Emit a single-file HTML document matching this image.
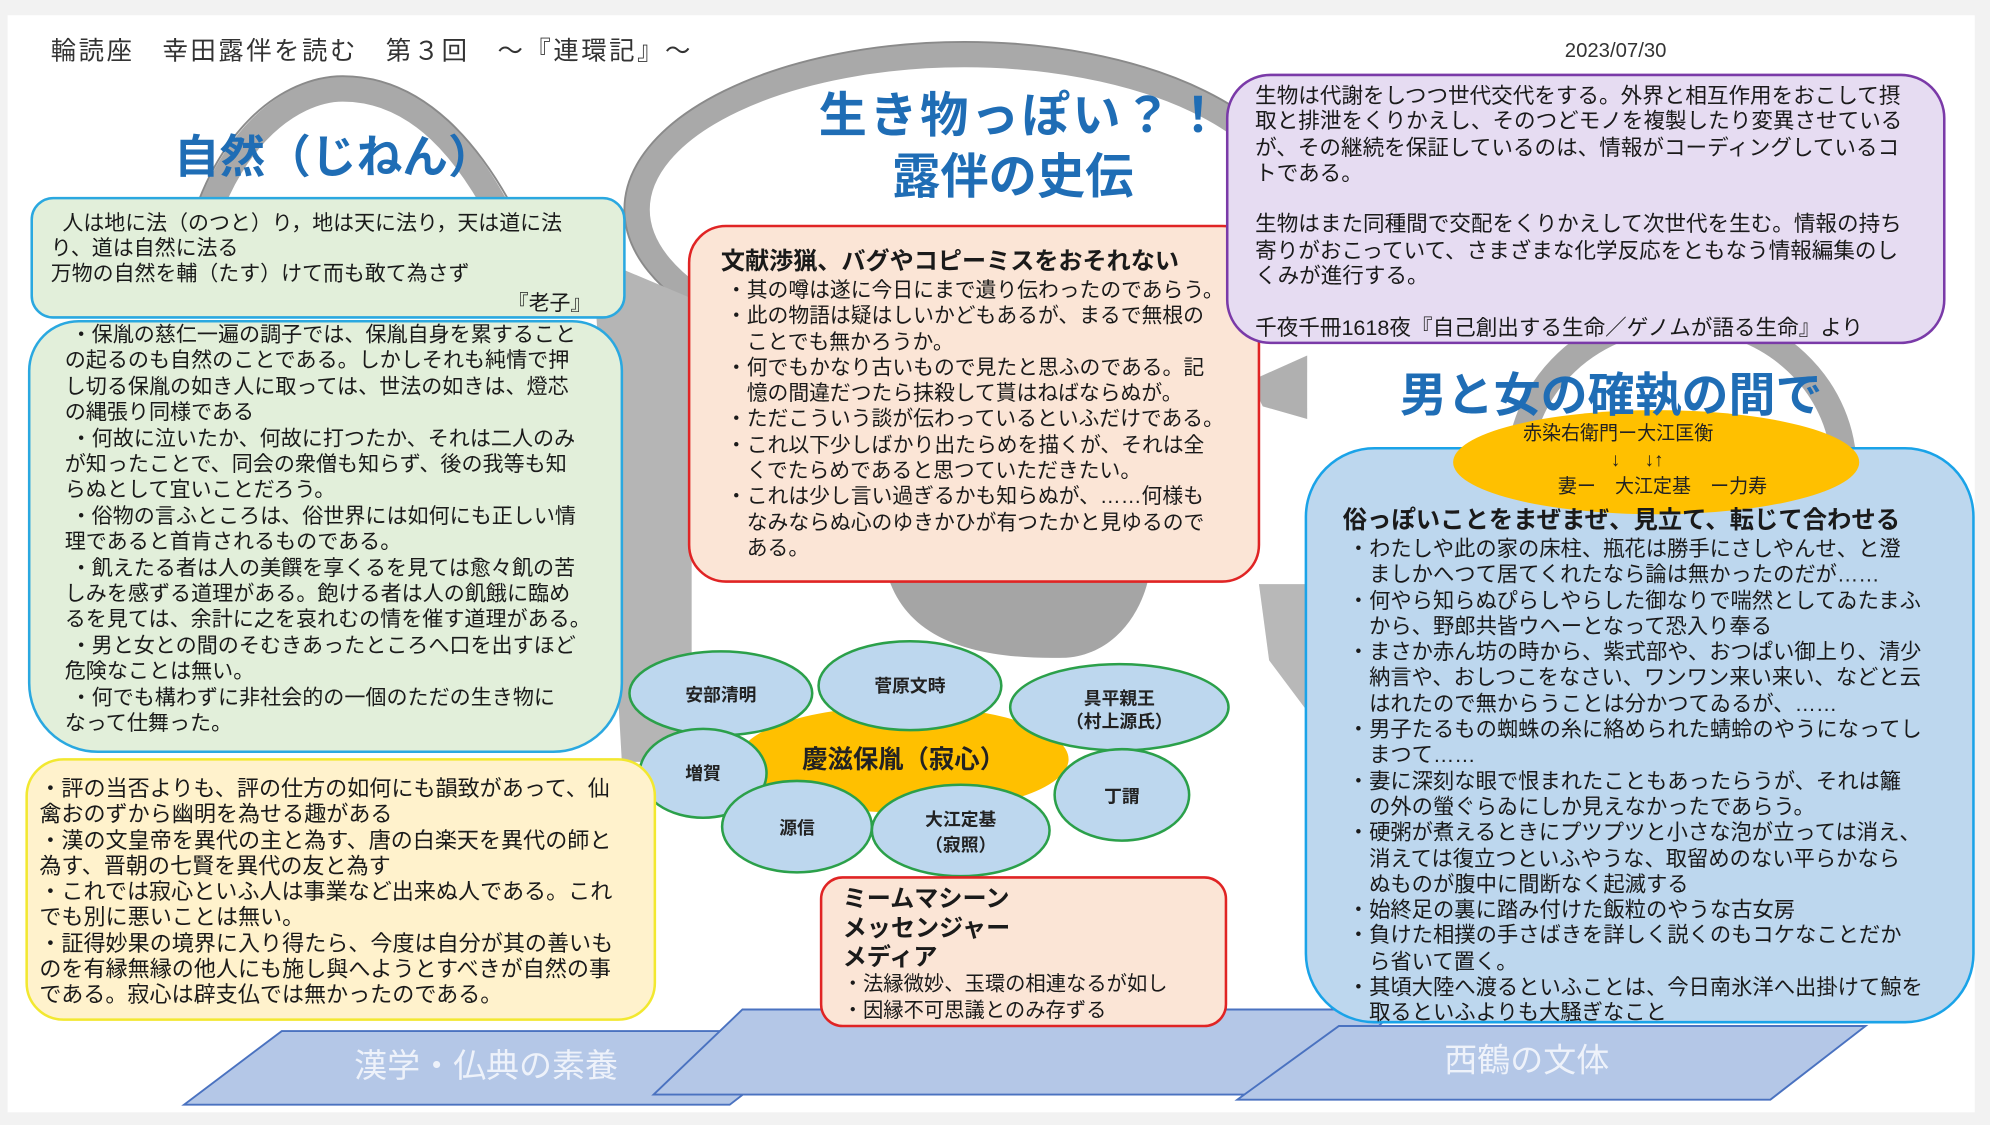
<!DOCTYPE html>
<html><head><meta charset="utf-8">
<style>
html,body{margin:0;padding:0;background:#f2f2f2;width:1990px;height:1125px;overflow:hidden}
#c{position:absolute;left:0;top:0;width:1568px;height:886px;transform:scale(1.2691,1.2698);transform-origin:0 0;font-family:"Liberation Sans","Noto Sans CJK JP",sans-serif;color:#1a1a1a}
.abs{position:absolute}
.box{position:absolute;box-sizing:border-box}
.l{white-space:nowrap}
.t{position:absolute;white-space:nowrap;font-weight:bold;color:#1f6db5}
</style></head><body>
<div id="c">
<div class="abs" style="left:6px;top:12px;width:1550px;height:864px;background:#fff"></div>
<svg class="abs" style="left:0;top:0" width="1568" height="886">
 <g fill="none" stroke="#a9a9a9" stroke-width="20">
  <path d="M150 220 C170 110 230 70 270 70 C330 70 370 120 400 180"/>
  <ellipse cx="760" cy="165" rx="258" ry="122"/>
  <ellipse cx="1325" cy="370" rx="128" ry="120"/>
 </g>
 <g fill="none" stroke="#8a8a8a" stroke-width="1.5">
  <path d="M140 220 C160 100 225 60 270 60 C335 60 380 115 410 175"/>
  <ellipse cx="760" cy="165" rx="268" ry="132"/>
 </g>
 <polygon points="395,170 450,195 545,235 545,600 490,600 470,250" fill="#b5b5b5"/>
 <path d="M700 455 C715 500 760 520 840 518 C880 515 900 480 905 455 Z" fill="#a5a5a5"/>
 <polygon points="985,300 1030,280 1030,330 995,320" fill="#b0b0b0"/>
 <polygon points="992,460 1030,460 1030,560 1000,520" fill="#b8b8b8"/>
 <g fill="#b4c7e7" stroke="#4a72c0" stroke-width="1.5">
  <polygon points="145,870 222,812 650,812 575,870"/>
  <polygon points="515,862 585,795 1100,795 1030,862"/>
  <polygon points="975,866 1055,808 1470,808 1395,866"/>
 </g>
 <text x="383" y="848" font-size="26" fill="#eef2fa" text-anchor="middle" font-family="Liberation Sans, Noto Sans CJK JP, sans-serif">漢学・仏典の素養</text>
 <text x="1203" y="844" font-size="26" fill="#eef2fa" text-anchor="middle" font-family="Liberation Sans, Noto Sans CJK JP, sans-serif">西鶴の文体</text>
 <ellipse cx="712" cy="598" rx="130" ry="42" fill="#ffc000"/>
 <g fill="#bdd7ee" stroke="#2ba04a" stroke-width="2">
  <ellipse cx="568" cy="546" rx="72" ry="33"/>
  <ellipse cx="717" cy="540" rx="72" ry="35"/>
  <ellipse cx="882" cy="557" rx="86" ry="34"/>
  <ellipse cx="554" cy="609" rx="50" ry="35"/>
  <ellipse cx="884" cy="626" rx="53" ry="36"/>
  <ellipse cx="628" cy="651" rx="59" ry="36"/>
  <ellipse cx="757" cy="654" rx="70" ry="36"/>
 </g>
 <g font-size="14" font-weight="bold" fill="#222" text-anchor="middle" font-family="Liberation Sans, Noto Sans CJK JP, sans-serif">
  <text x="568" y="552">安部清明</text>
  <text x="717" y="545">菅原文時</text>
  <text x="882" y="555">具平親王</text>
  <text x="882" y="573">（村上源氏）</text>
  <text x="554" y="614">増賀</text>
  <text x="884" y="632">丁謂</text>
  <text x="628" y="657">源信</text>
  <text x="757" y="650">大江定基</text>
  <text x="757" y="670">（寂照）</text>
 </g>
 <text x="712" y="605" font-size="20" font-weight="bold" fill="#222" text-anchor="middle" font-family="Liberation Sans, Noto Sans CJK JP, sans-serif">慶滋保胤（寂心）</text>
</svg>

<div class="abs l" style="left:40px;top:24px;font-size:20px;letter-spacing:2px;color:#333">輪読座　幸田露伴を読む　第３回　～『連環記』～</div>
<div class="abs l" style="left:1233px;top:32px;font-size:16px;color:#333">2023/07/30</div>

<div class="t" style="left:137px;top:95px;font-size:36px">自然（じねん）</div>
<div class="t" style="left:645px;top:60px;font-size:38px;letter-spacing:2px">生き物っぽい？！</div>
<div class="t" style="left:703px;top:108px;font-size:38px">露伴の史伝</div>

<div class="box" style="left:24px;top:155px;width:469px;height:96px;background:#e2efda;border:2px solid #2aa8e0;border-radius:18px;font-size:16.5px;line-height:20px;padding:9px 0 0 14px">
<div class="l">&nbsp;&nbsp;人は地に法（のつと）り，地は天に法り，天は道に法</div>
<div class="l">り、道は自然に法る</div>
<div class="l">万物の自然を輔（たす）けて而も敢て為さず</div>
<div class="l" style="padding-left:360px;margin-top:3px">『老子』</div>
</div>

<div class="box" style="left:22px;top:252px;width:469px;height:341px;background:#e2efda;border:2px solid #2aa8e0;border-radius:40px 40px 55px 55px;font-size:16.6px;line-height:20.4px;padding:0 0 0 27px">
<div class="l">&nbsp;・保胤の慈仁一遍の調子では、保胤自身を累すること</div>
<div class="l">の起るのも自然のことである。しかしそれも純情で押</div>
<div class="l">し切る保胤の如き人に取っては、世法の如きは、燈芯</div>
<div class="l">の縄張り同様である</div>
<div class="l">&nbsp;・何故に泣いたか、何故に打つたか、それは二人のみ</div>
<div class="l">が知ったことで、同会の衆僧も知らず、後の我等も知</div>
<div class="l">らぬとして宜いことだろう。</div>
<div class="l">&nbsp;・俗物の言ふところは、俗世界には如何にも正しい情</div>
<div class="l">理であると首肯されるものである。</div>
<div class="l">&nbsp;・飢えたる者は人の美饌を享くるを見ては愈々飢の苦</div>
<div class="l">しみを感ずる道理がある。飽ける者は人の飢餓に臨め</div>
<div class="l">るを見ては、余計に之を哀れむの情を催す道理がある。</div>
<div class="l">&nbsp;・男と女との間のそむきあったところへ口を出すほど</div>
<div class="l">危険なことは無い。</div>
<div class="l">&nbsp;・何でも構わずに非社会的の一個のただの生き物に</div>
<div class="l">なって仕舞った。</div>
</div>

<div class="box" style="left:20px;top:597px;width:497px;height:207px;background:#fff2cc;border:2px solid #f2e830;border-radius:30px;font-size:17.4px;line-height:20.3px;padding:12px 0 0 9px">
<div class="l">・評の当否よりも、評の仕方の如何にも韻致があって、仙</div>
<div class="l">禽おのずから幽明を為せる趣がある</div>
<div class="l">・漢の文皇帝を異代の主と為す、唐の白楽天を異代の師と</div>
<div class="l">為す、晋朝の七賢を異代の友と為す</div>
<div class="l">・これでは寂心といふ人は事業など出来ぬ人である。これ</div>
<div class="l">でも別に悪いことは無い。</div>
<div class="l">・証得妙果の境界に入り得たら、今度は自分が其の善いも</div>
<div class="l">のを有縁無縁の他人にも施し與へようとすべきが自然の事</div>
<div class="l">である。寂心は辟支仏では無かったのである。</div>
</div>

<div class="box" style="left:542px;top:177px;width:451px;height:282px;background:#fbe5d6;border:2px solid #e02424;border-radius:30px;font-size:16.4px;line-height:20.3px;padding:16px 0 0 28px">
<div class="l" style="font-weight:bold;font-size:19px;line-height:24px;margin-left:-4px">文献渉猟、バグやコピーミスをおそれない</div>
<div class="l">・其の噂は遂に今日にまで遺り伝わったのであらう。</div>
<div class="l">・此の物語は疑はしいかどもあるが、まるで無根の</div>
<div class="l">　ことでも無かろうか。</div>
<div class="l">・何でもかなり古いもので見たと思ふのである。記</div>
<div class="l">　憶の間違だつたら抹殺して貰はねばならぬが。</div>
<div class="l">・ただこういう談が伝わっているといふだけである。</div>
<div class="l">・これ以下少しばかり出たらめを描くが、それは全</div>
<div class="l">　くでたらめであると思つていただきたい。</div>
<div class="l">・これは少し言い過ぎるかも知らぬが、……何様も</div>
<div class="l">　なみならぬ心のゆきかひが有つたかと見ゆるので</div>
<div class="l">　ある。</div>
</div>

<div class="box" style="left:966px;top:58px;width:567px;height:213px;background:#e6dcf2;border:2px solid #7a3aa8;border-radius:35px;font-size:17px;line-height:20.3px;padding:6px 0 0 21px">
<div class="l">生物は代謝をしつつ世代交代をする。外界と相互作用をおこして摂</div>
<div class="l">取と排泄をくりかえし、そのつどモノを複製したり変異させている</div>
<div class="l">が、その継続を保証しているのは、情報がコーディングしているコ</div>
<div class="l">トである。</div>
<div class="l">&nbsp;</div>
<div class="l">生物はまた同種間で交配をくりかえして次世代を生む。情報の持ち</div>
<div class="l">寄りがおこっていて、さまざまな化学反応をともなう情報編集のし</div>
<div class="l">くみが進行する。</div>
<div class="l">&nbsp;</div>
<div class="l">千夜千冊1618夜『自己創出する生命／ゲノムが語る生命』より</div>
</div>

<div class="box" style="left:1028px;top:352px;width:528px;height:454px;background:#bdd7ee;border:2px solid #1aa3e8;border-radius:55px;"></div>
<svg class="abs" style="left:0;top:0" width="1568" height="886">
 <ellipse cx="1305" cy="364" rx="160" ry="41" fill="#ffc000"/>
 <g font-size="15" fill="#222" text-anchor="middle" font-family="Liberation Sans, Noto Sans CJK JP, sans-serif">
  <text x="1275" y="346">赤染右衛門ー大江匡衡</text>
  <text x="1290" y="367">↓　 ↓↑</text>
  <text x="1310" y="388">妻ー　大江定基　ー力寿</text>
 </g>
</svg>
<div class="t" style="left:1103px;top:281px;font-size:37px">男と女の確執の間で</div>
<div class="abs" style="left:1058px;top:399px;font-size:16.8px;line-height:20.3px">
<div class="l" style="font-weight:bold;font-size:19.2px;line-height:24px">俗っぽいことをまぜまぜ、見立て、転じて合わせる</div>
<div style="padding-left:4px">
<div class="l">・わたしや此の家の床柱、瓶花は勝手にさしやんせ、と澄</div>
<div class="l">　ましかへつて居てくれたなら論は無かったのだが……</div>
<div class="l">・何やら知らぬぴらしやらした御なりで喘然としてゐたまふ</div>
<div class="l">　から、野郎共皆ウヘーとなって恐入り奉る</div>
<div class="l">・まさか赤ん坊の時から、紫式部や、おつぱい御上り、清少</div>
<div class="l">　納言や、おしつこをなさい、ワンワン来い来い、などと云</div>
<div class="l">　はれたので無からうことは分かつてゐるが、……</div>
<div class="l">・男子たるもの蜘蛛の糸に絡められた蜻蛉のやうになってし</div>
<div class="l">　まつて……</div>
<div class="l">・妻に深刻な眼で恨まれたこともあったらうが、それは籬</div>
<div class="l">　の外の螢ぐらゐにしか見えなかったであらう。</div>
<div class="l">・硬粥が煮えるときにプツプツと小さな泡が立っては消え、</div>
<div class="l">　消えては復立つといふやうな、取留めのない平らかなら</div>
<div class="l">　ぬものが腹中に間断なく起滅する</div>
<div class="l">・始終足の裏に踏み付けた飯粒のやうな古女房</div>
<div class="l">・負けた相撲の手さばきを詳しく説くのもコケなことだか</div>
<div class="l">　ら省いて置く。</div>
<div class="l">・其頃大陸へ渡るといふことは、今日南氷洋へ出掛けて鯨を</div>
<div class="l">　取るといふよりも大騒ぎなこと</div>
</div>
</div>

<div class="box" style="left:646px;top:690px;width:321px;height:119px;background:#fbe5d6;border:2px solid #e02424;border-radius:18px;padding:5px 0 0 16px">
<div class="l" style="font-weight:bold;font-size:19px;line-height:23px">ミームマシーン</div>
<div class="l" style="font-weight:bold;font-size:19px;line-height:23px">メッセンジャー</div>
<div class="l" style="font-weight:bold;font-size:19px;line-height:23px">メディア</div>
<div class="l" style="font-size:16px;line-height:20.5px">・法縁微妙、玉環の相連なるが如し</div>
<div class="l" style="font-size:16px;line-height:20.5px">・因縁不可思議とのみ存ずる</div>
</div>
</div>
</body></html>
